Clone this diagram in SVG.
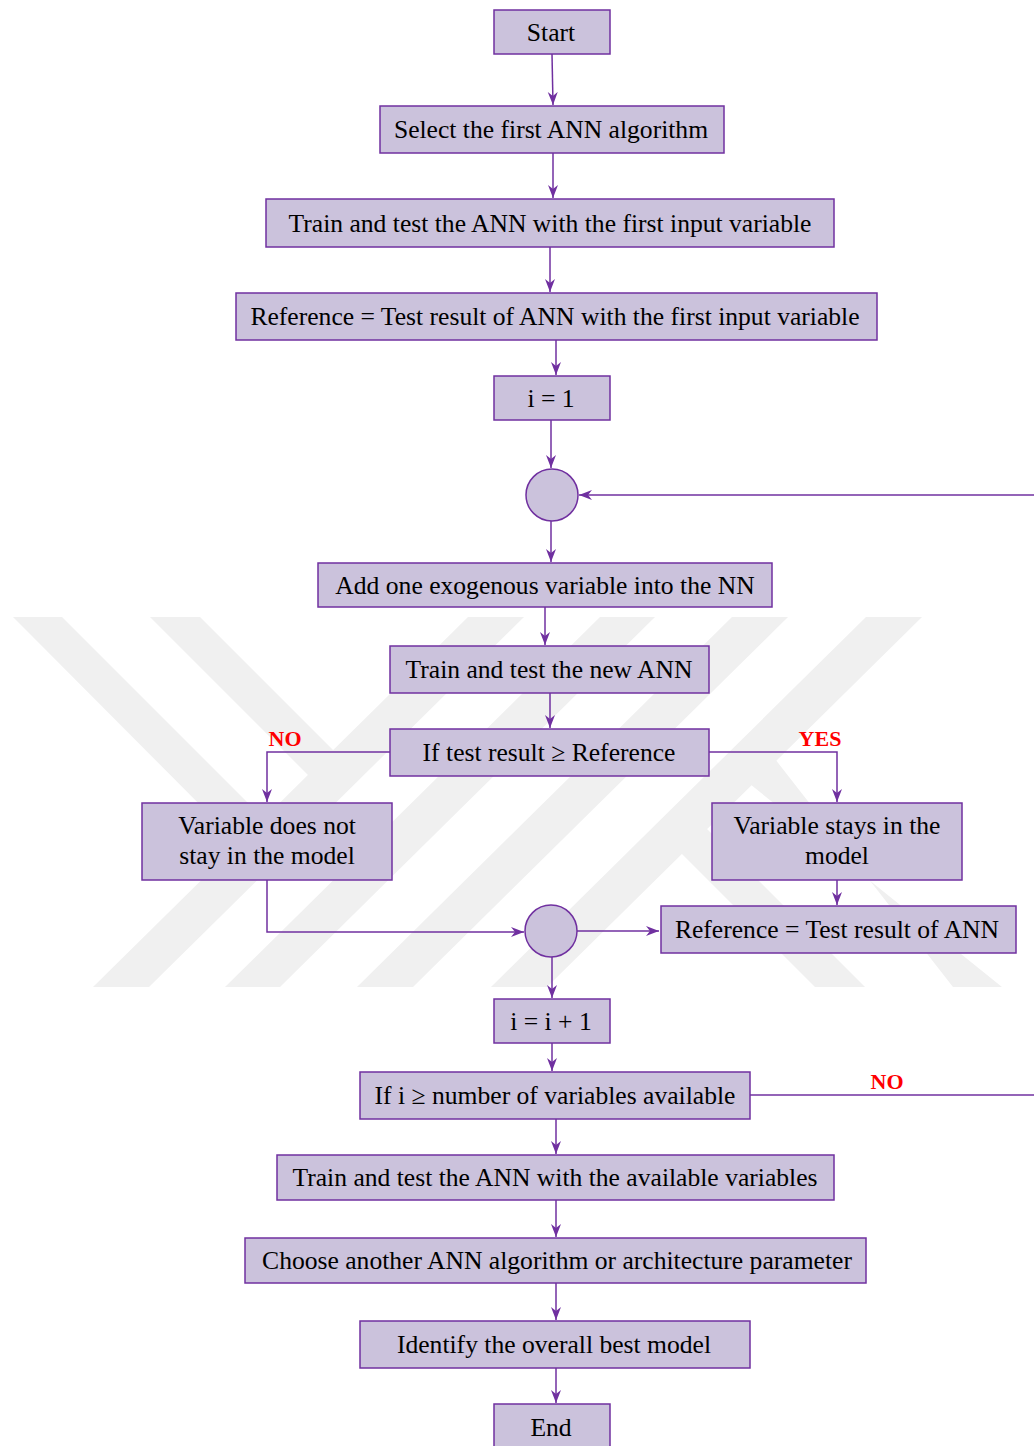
<svg xmlns="http://www.w3.org/2000/svg" width="1034" height="1446" viewBox="0 0 1034 1446">
  <style>
    .box { fill: #cbc2dc; stroke: #7030a0; stroke-width: 1.5; }
    .lbl { font-size: 25.6px; fill: #000000; text-anchor: middle; }
    .tag { font-size: 22px; font-weight: bold; fill: #ff0000; text-anchor: middle; }
    .wire { fill: none; stroke: #7030a0; stroke-width: 1.5; }
    .wm { fill: #f0f0f0; }
  </style>
  <defs>
    <marker id="arrow" markerUnits="userSpaceOnUse" markerWidth="14" markerHeight="12" refX="13" refY="5" orient="auto">
      <path d="M0,0 L13,5 L0,10 L4,5 Z" fill="#7030a0"/>
    </marker>
  </defs>
  <rect width="1034" height="1446" fill="#ffffff"/>

  <!-- background emblem -->
  <g id="emblem">
    <polygon class="wm" points="468,617 524,617 149,987 93,987"/>
    <polygon class="wm" points="600,617 655,617 280,987 225,987"/>
    <polygon class="wm" points="732,617 788,617 413,987 357,987"/>
    <polygon class="wm" points="866,617 922,617 547,987 491,987"/>
    <polygon class="wm" points="13,617 62,617 265,820 240,845"/>
    <polygon class="wm" points="150,617 200,617 334,751 309,776"/>
    <polygon class="wm" points="953,987 1002,987 750,784 775,759"/>
    <polygon class="wm" points="815,987 865,987 706,828 681,853"/>
  </g>

  <!-- connectors -->
  <g id="connectors">
    <line class="wire" x1="552" y1="54" x2="553" y2="105" marker-end="url(#arrow)"/>
    <line class="wire" x1="553" y1="153" x2="553" y2="198" marker-end="url(#arrow)"/>
    <line class="wire" x1="550" y1="247" x2="550" y2="292" marker-end="url(#arrow)"/>
    <line class="wire" x1="556" y1="340" x2="556" y2="375" marker-end="url(#arrow)"/>
    <line class="wire" x1="551" y1="420" x2="551" y2="468" marker-end="url(#arrow)"/>
    <line class="wire" x1="1034" y1="495" x2="579" y2="495" marker-end="url(#arrow)"/>
    <line class="wire" x1="551" y1="521" x2="551" y2="562" marker-end="url(#arrow)"/>
    <line class="wire" x1="545" y1="607" x2="545" y2="645" marker-end="url(#arrow)"/>
    <line class="wire" x1="550" y1="693" x2="550" y2="728" marker-end="url(#arrow)"/>
    <polyline class="wire" points="390,752 267,752 267,802" marker-end="url(#arrow)"/>
    <polyline class="wire" points="709,752 837,752 837,802" marker-end="url(#arrow)"/>
    <line class="wire" x1="837" y1="880" x2="837" y2="905" marker-end="url(#arrow)"/>
    <polyline class="wire" points="267,880 267,932 524,932" marker-end="url(#arrow)"/>
    <line class="wire" x1="577" y1="931" x2="659" y2="931" marker-end="url(#arrow)"/>
    <line class="wire" x1="552" y1="957" x2="552" y2="998" marker-end="url(#arrow)"/>
    <line class="wire" x1="552" y1="1043" x2="552" y2="1071" marker-end="url(#arrow)"/>
    <line class="wire" x1="750" y1="1095" x2="1034" y2="1095"/>
    <line class="wire" x1="556" y1="1119" x2="556" y2="1154" marker-end="url(#arrow)"/>
    <line class="wire" x1="556" y1="1200" x2="556" y2="1237" marker-end="url(#arrow)"/>
    <line class="wire" x1="556" y1="1283" x2="556" y2="1320" marker-end="url(#arrow)"/>
    <line class="wire" x1="556" y1="1368" x2="556" y2="1403" marker-end="url(#arrow)"/>
  </g>

  <!-- branch labels -->
  <g id="branch-labels" font-family="'Liberation Serif', 'Times New Roman', serif">
    <text class="tag" x="285" y="746">NO</text>
    <text class="tag" x="820" y="746">YES</text>
    <text class="tag" x="887" y="1089">NO</text>
  </g>

  <!-- nodes -->
  <g id="nodes" font-family="'Liberation Serif', 'Times New Roman', serif">
    <g id="start">
      <rect class="box" x="494" y="10" width="116" height="44"/>
      <text class="lbl" x="551" y="41">Start</text>
    </g>
    <g id="select-first">
      <rect class="box" x="380" y="106" width="344" height="47"/>
      <text class="lbl" x="551" y="138">Select the first ANN algorithm</text>
    </g>
    <g id="train-first">
      <rect class="box" x="266" y="199" width="568" height="48"/>
      <text class="lbl" x="550" y="231.5">Train and test the ANN with the first input variable</text>
    </g>
    <g id="reference-init">
      <rect class="box" x="236" y="293" width="641" height="47"/>
      <text class="lbl" x="555" y="325">Reference = Test result of ANN with the first input variable</text>
    </g>
    <g id="i-init">
      <rect class="box" x="494" y="376" width="116" height="44"/>
      <text class="lbl" x="551" y="407">i = 1</text>
    </g>
    <g id="merge-top">
      <circle class="box" cx="552" cy="495" r="26"/>
    </g>
    <g id="add-variable">
      <rect class="box" x="318" y="563" width="454" height="44"/>
      <text class="lbl" x="545" y="594">Add one exogenous variable into the NN</text>
    </g>
    <g id="train-new">
      <rect class="box" x="390" y="646" width="319" height="47"/>
      <text class="lbl" x="549" y="678">Train and test the new ANN</text>
    </g>
    <g id="test-check">
      <rect class="box" x="390" y="729" width="319" height="47"/>
      <text class="lbl" x="549" y="761">If test result ≥ Reference</text>
    </g>
    <g id="var-out">
      <rect class="box" x="142" y="803" width="250" height="77"/>
      <text class="lbl" x="267" y="834">Variable does not</text>
      <text class="lbl" x="267" y="864">stay in the model</text>
    </g>
    <g id="var-in">
      <rect class="box" x="712" y="803" width="250" height="77"/>
      <text class="lbl" x="837" y="834">Variable stays in the</text>
      <text class="lbl" x="837" y="864">model</text>
    </g>
    <g id="reference-update">
      <rect class="box" x="661" y="906" width="355" height="47"/>
      <text class="lbl" x="837" y="938">Reference = Test result of ANN</text>
    </g>
    <g id="merge-bottom">
      <circle class="box" cx="551" cy="931" r="26"/>
    </g>
    <g id="i-step">
      <rect class="box" x="494" y="999" width="116" height="44"/>
      <text class="lbl" x="551" y="1030">i = i + 1</text>
    </g>
    <g id="i-check">
      <rect class="box" x="360" y="1072" width="390" height="47"/>
      <text class="lbl" x="555" y="1104">If i ≥ number of variables available</text>
    </g>
    <g id="train-available">
      <rect class="box" x="277" y="1155" width="557" height="45"/>
      <text class="lbl" x="555" y="1186">Train and test the ANN with the available variables</text>
    </g>
    <g id="choose-another">
      <rect class="box" x="245" y="1238" width="621" height="45"/>
      <text class="lbl" x="557" y="1269">Choose another ANN algorithm or architecture parameter</text>
    </g>
    <g id="identify-best">
      <rect class="box" x="360" y="1321" width="390" height="47"/>
      <text class="lbl" x="554" y="1353">Identify the overall best model</text>
    </g>
    <g id="end">
      <rect class="box" x="494" y="1404" width="116" height="50"/>
      <text class="lbl" x="551" y="1436">End</text>
    </g>
  </g>
</svg>
